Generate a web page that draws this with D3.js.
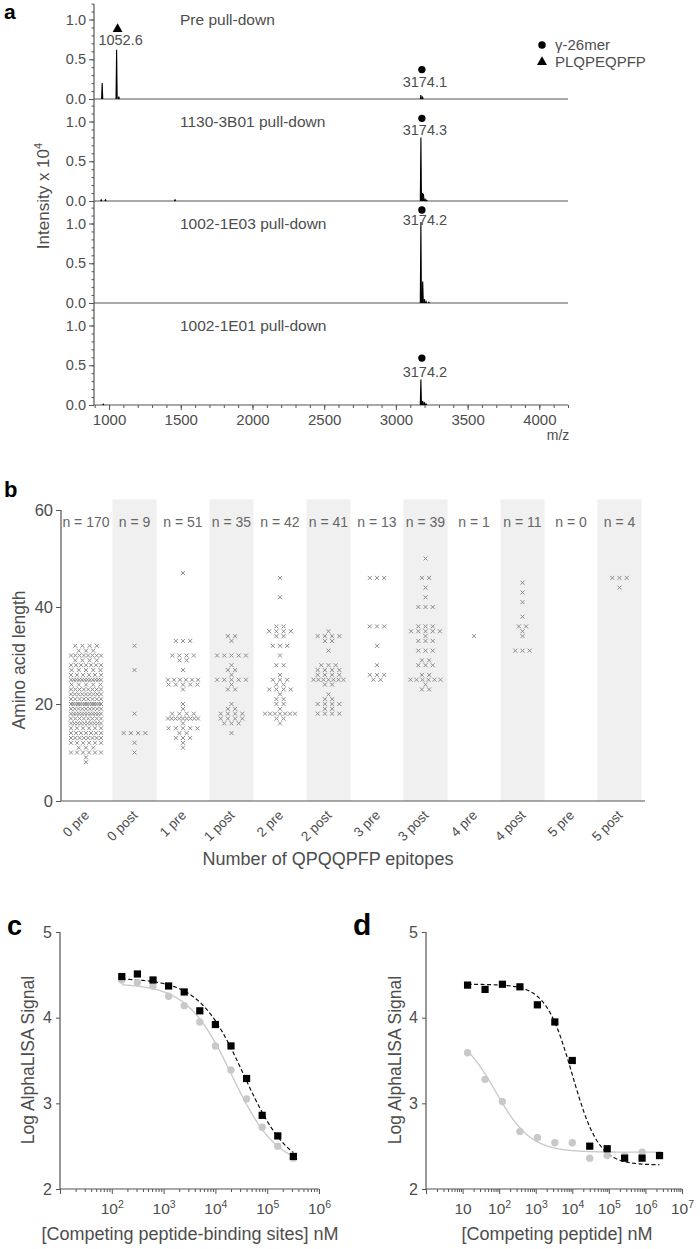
<!DOCTYPE html>
<html><head><meta charset="utf-8">
<script src="https://cdn.jsdelivr.net/npm/d3@7"></script>
<style>
body{margin:0;background:#fff}
svg{display:block}
text{font-family:"Liberation Sans",Arial,Helvetica,sans-serif}
</style>
</head><body>
<svg id="fig" width="700" height="1249"></svg>
<script>
// ================= DATA =================
// Panel a: MALDI spectra, peaks as [m/z, intensity x10^4]
const panelTitles = ["Pre pull-down", "1130-3B01 pull-down", "1002-1E03 pull-down", "1002-1E01 pull-down"];
const specPre   = [[952, 0.20], [1052.6, 0.62], [1068, 0.03], [3174.1, 0.05], [3186, 0.02]];
const spec3B01  = [[945, 0.015], [975, 0.015], [1460, 0.015], [3174.3, 0.80], [3184, 0.10], [3192, 0.09], [3203, 0.03], [3215, 0.01]];
const spec1E03  = [[3174.2, 1.02], [3187, 0.27], [3198, 0.05], [3210, 0.02], [3230, 0.01]];
const spec1E01  = [[960, 0.01], [3174.2, 0.32], [3186, 0.05], [3197, 0.04], [3210, 0.015]];
const spectra = [specPre, spec3B01, spec1E03, spec1E01];
// peak annotations: panel, m/z, label, label level, marker level, marker
const annPanel  = [0, 0, 1, 2, 3];
const annMz     = [1052.6, 3174.1, 3174.3, 3174.2, 3174.2];
const annText   = ["1052.6", "3174.1", "3174.3", "3174.2", "3174.2"];
const annLabelY = [0.74, 0.21, 0.89, 1.04, 0.41];
const annMarkY  = [0.88, 0.37, 1.04, 1.17, 0.59];
const annSym    = ["tri", "dot", "dot", "dot", "dot"];
const legendA   = ["γ-26mer", "PLQPEQPFP"];
const mzTicks   = [1000, 1500, 2000, 2500, 3000, 3500, 4000];
const intTicks  = [0, 0.5, 1.0];

// Panel b: amino acid length per category, [length, count]
const catsB = ["0 pre", "0 post", "1 pre", "1 post", "2 pre", "2 post", "3 pre", "3 post", "4 pre", "4 post", "5 pre", "5 post"];
const nLabels = [170, 9, 51, 35, 42, 41, 13, 39, 1, 11, 0, 4];
const len0pre  = [[8,1],[9,1],[10,6],[11,3],[12,6],[13,8],[14,7],[15,6],[16,10],[17,8],[18,12],[19,9],[20,14],[21,8],[22,9],[23,8],[24,5],[25,12],[26,6],[27,5],[28,7],[29,4],[30,8],[31,3],[32,4]];
const len0post = [[32,1],[27,1],[18,1],[14,4],[12,1],[10,1]];
const len1pre  = [[47,1],[33,3],[30,4],[29,2],[27,1],[25,6],[24,5],[23,1],[20,1],[19,1],[18,4],[17,9],[16,1],[15,5],[14,2],[13,3],[12,1],[11,1]];
const len1post = [[34,2],[33,1],[30,5],[28,1],[27,2],[26,1],[25,5],[24,1],[23,2],[20,1],[19,2],[18,4],[17,4],[16,3],[14,1]];
const len2pre  = [[46,1],[42,1],[36,2],[35,4],[34,2],[32,3],[30,1],[28,2],[26,1],[25,3],[24,2],[23,4],[22,1],[21,2],[20,2],[19,1],[18,7],[17,2],[16,1]];
const len2post = [[35,1],[34,4],[33,2],[31,1],[28,3],[27,4],[26,4],[25,7],[24,2],[22,1],[21,2],[20,4],[19,2],[18,4]];
const len3pre  = [[46,3],[36,3],[32,1],[28,1],[26,3],[25,2]];
const len3post = [[50,1],[46,2],[44,1],[42,1],[40,3],[36,3],[35,5],[34,1],[33,3],[31,3],[29,2],[28,3],[26,2],[25,6],[24,1],[23,2]];
const len4pre  = [[34,1]];
const len4post = [[45,1],[43,1],[41,1],[38,1],[36,2],[35,1],[34,1],[31,3]];
const len5pre  = [];
const len5post = [[46,3],[44,1]];
const lengthsB = [len0pre, len0post, len1pre, len1post, len2pre, len2post, len3pre, len3post, len4pre, len4post, len5pre, len5post];
const yTicksB = [0, 20, 40, 60];

// Panel c: [competing peptide-binding sites] nM vs log signal
const concC    = [156, 312, 625, 1250, 2500, 5000, 10000, 20000, 40000, 80000, 160000, 320000];
const squaresC = [4.48, 4.51, 4.44, 4.37, 4.30, 4.08, 3.92, 3.67, 3.29, 2.86, 2.62, 2.38];
const circlesC = [4.44, 4.41, 4.37, 4.25, 4.14, 3.95, 3.67, 3.39, 3.05, 2.72, 2.50, 2.36];
const fitSquaresC = [4.46, 2.20, 4.55, 1.0];   // top, bottom, logEC50, hill
const fitCirclesC = [4.40, 2.25, 4.32, 1.0];
// Panel d: [competing peptide] nM vs log signal
const concD    = [13.7, 41.2, 123, 370, 1111, 3333, 10000, 30000, 90000, 270000, 810000, 2430000];
const squaresD = [4.38, 4.33, 4.39, 4.36, 4.15, 3.95, 3.50, 2.50, 2.47, 2.36, 2.36, 2.39];
const circlesD = [3.59, 3.28, 3.02, 2.67, 2.60, 2.54, 2.54, 2.36, 2.39, 2.39, 2.43, 2.40];
const fitSquaresD = [4.39, 2.28, 4.00, 1.2];
const fitCirclesD = [3.85, 2.43, 1.90, 0.9];
const yTicksCD = [2, 3, 4, 5];

// ================= DRAW =================
const svg = d3.select("#fig");
const TXT = "#4d4d4d", AX = "#555";
const FONT = '"Liberation Sans",Arial,sans-serif';

function styleAxis(g, fs) {
  g.selectAll(".domain").remove();
  g.selectAll("line").attr("stroke", AX);
  g.selectAll("text").attr("fill", TXT).attr("font-size", fs).attr("font-family", FONT);
}
function letter(t, x, y, fs) {
  svg.append("text").attr("x", x).attr("y", y).attr("font-size", fs).attr("font-weight", "bold")
    .attr("fill", "#000").text(t);
}

// ---------- Panel a ----------
letter("a", 4, 19, 21);
const xA = d3.scaleLinear().domain([895, 4200]).range([94, 568]);
const zeroA = [99, 201, 303, 405];
const unitA = 79.5;
const gA = svg.append("g");
gA.append("line").attr("x1", 94).attr("x2", 94).attr("y1", 4).attr("y2", 405).attr("stroke", AX).attr("stroke-width", 1.2);
spectra.forEach((peaks, i) => {
  const y = d3.scaleLinear().domain([0, 1]).range([zeroA[i], zeroA[i] - unitA]);
  const minor = d3.axisLeft(y).tickValues(d3.range(0, 1.21, 0.1)).tickSize(2.5).tickFormat("");
  styleAxis(gA.append("g").attr("transform", "translate(94,0)").call(minor), 14);
  const major = d3.axisLeft(y).tickValues(intTicks).tickSize(5).tickPadding(3).tickFormat(d3.format(".1f"));
  styleAxis(gA.append("g").attr("transform", "translate(94,0)").call(major), 14.5);
  gA.append("line").attr("x1", 94).attr("x2", 568).attr("y1", y(0)).attr("y2", y(0)).attr("stroke", AX).attr("stroke-width", 1.2);
  const line = d3.line().x(d => xA(d[0])).y(d => y(d[1]));
  peaks.forEach(p => {
    gA.append("path").attr("d", line([[p[0] - 4, 0], [p[0], p[1]], [p[0] + 4, 0]]))
      .attr("fill", "none").attr("stroke", "#000").attr("stroke-width", 1.1);
  });
  gA.append("text").attr("x", 180).attr("y", zeroA[i] - unitA + 5.5)
    .attr("font-size", 15.5).attr("fill", TXT).text(panelTitles[i]);
});
annMz.forEach((mz, k) => {
  const z = zeroA[annPanel[k]];
  const y = d3.scaleLinear().domain([0, 1]).range([z, z - unitA]);
  gA.append("text").attr("x", xA(mz) + 4).attr("y", y(annLabelY[k]) + 5).attr("text-anchor", "middle")
    .attr("font-size", 14.5).attr("fill", TXT).text(annText[k]);
  const sym = annSym[k] === "tri" ? d3.symbolTriangle : d3.symbolCircle;
  gA.append("path").attr("d", d3.symbol(sym, 42)())
    .attr("transform", `translate(${xA(mz) + 1},${y(annMarkY[k])})`).attr("fill", "#000");
});
[d3.symbolCircle, d3.symbolTriangle].forEach((s, k) => {
  gA.append("path").attr("d", d3.symbol(s, 44)()).attr("transform", `translate(542,${45 + k * 17})`).attr("fill", "#000");
  gA.append("text").attr("x", 555).attr("y", 50 + k * 17).attr("font-size", 15).attr("fill", TXT).text(legendA[k]);
});
const yBot = zeroA[3];
styleAxis(gA.append("g").attr("transform", `translate(0,${yBot})`)
  .call(d3.axisBottom(xA).tickValues(d3.range(900, 4201, 100)).tickSize(3).tickFormat("")), 14);
styleAxis(gA.append("g").attr("transform", `translate(0,${yBot})`)
  .call(d3.axisBottom(xA).tickValues(mzTicks).tickSize(5).tickPadding(4).tickFormat(d3.format("d"))), 15);
gA.append("text").attr("x", 558).attr("y", 440).attr("text-anchor", "middle").attr("font-size", 14).attr("fill", TXT).text("m/z");
gA.append("text").attr("transform", "translate(49,196) rotate(-90)").attr("text-anchor", "middle")
  .attr("font-size", 17).attr("fill", TXT).text("Intensity x 10").append("tspan").attr("dy", -7).attr("font-size", 11).text("4");

// ---------- Panel b ----------
letter("b", 4, 497, 22);
const xB = d3.scaleBand().domain(catsB).range([61.75, 643.75]).paddingInner(0.0928).paddingOuter(0.0464);
const yB = d3.scaleLinear().domain([0, 60]).range([801, 510]);
const gB = svg.append("g");
catsB.forEach((c, i) => {
  if (i % 2 === 1) gB.append("rect").attr("x", xB(c)).attr("width", xB.bandwidth())
    .attr("y", yB(62.2)).attr("height", yB(0) - yB(62.2)).attr("fill", "#f0f0f0");
});
gB.append("line").attr("x1", 61).attr("x2", 61).attr("y1", yB(0)).attr("y2", yB(60)).attr("stroke", AX).attr("stroke-width", 1.2);
gB.append("line").attr("x1", 61).attr("x2", 645).attr("y1", yB(0)).attr("y2", yB(0)).attr("stroke", AX).attr("stroke-width", 1.2);
styleAxis(gB.append("g").attr("transform", "translate(61,0)")
  .call(d3.axisLeft(yB).tickValues(yTicksB).tickSize(5).tickPadding(3)), 16.5);
lengthsB.forEach((pairs, ci) => {
  const cx = xB(catsB[ci]) + xB.bandwidth() / 2;
  pairs.forEach(([len, cnt]) => {
    const sp = cnt > 1 ? Math.min(7.2, 30 / (cnt - 1)) : 0;
    for (let k = 0; k < cnt; k++) {
      const x = cx + (k - (cnt - 1) / 2) * sp;
      gB.append("path").attr("d", "M-2,-2L2,2M-2,2L2,-2")
        .attr("transform", `translate(${x},${yB(len)})`).attr("stroke", "#8c8c8c").attr("stroke-width", 1).attr("fill", "none");
    }
  });
  gB.append("text").attr("x", cx).attr("y", 527).attr("text-anchor", "middle").attr("font-size", 14)
    .attr("fill", "#666").text("n = " + nLabels[ci]);
});
const xAxB = gB.append("g").attr("transform", `translate(0,${yB(0)})`).call(d3.axisBottom(xB).tickSize(0).tickFormat(""));
xAxB.select(".domain").remove();
catsB.forEach(c => {
  gB.append("text").attr("transform", `translate(${xB(c) + xB.bandwidth() / 2 + 4},${yB(0) + 15}) rotate(-45)`)
    .attr("text-anchor", "end").attr("font-size", 13.5).attr("fill", TXT).text(c);
});
gB.append("text").attr("x", 328).attr("y", 865).attr("text-anchor", "middle").attr("font-size", 18).attr("fill", TXT).text("Number of QPQQPFP epitopes");
gB.append("text").attr("transform", "translate(25,660) rotate(-90)").attr("text-anchor", "middle").attr("font-size", 17.5).attr("fill", TXT).text("Amino acid length");

// ---------- Panels c, d ----------
function logPanel(opt) {
  const g = svg.append("g");
  const x = d3.scaleLog().domain(opt.xdom).range(opt.xr);
  const y = d3.scaleLinear().domain([2, 5]).range([1189, 932]);
  g.append("line").attr("x1", opt.xr[0]).attr("x2", opt.xr[0]).attr("y1", y(2)).attr("y2", y(5)).attr("stroke", AX).attr("stroke-width", 1.2);
  g.append("line").attr("x1", opt.xr[0]).attr("x2", opt.xr[1]).attr("y1", y(2)).attr("y2", y(2)).attr("stroke", AX).attr("stroke-width", 1.2);
  styleAxis(g.append("g").attr("transform", `translate(${opt.xr[0]},0)`)
    .call(d3.axisLeft(y).tickValues(yTicksCD).tickSize(4).tickPadding(4).tickFormat(d3.format("d"))), 16);
  const lo = Math.log10(opt.xdom[0]), hi = Math.log10(opt.xdom[1]);
  const minorV = [], majorV = [];
  for (let e = Math.floor(lo); e <= hi; e++) {
    majorV.push(Math.pow(10, e));
    for (let m = 2; m <= 9; m++) { const v = m * Math.pow(10, e); if (v < opt.xdom[1]) minorV.push(v); }
  }
  styleAxis(g.append("g").attr("transform", `translate(0,${y(2)})`)
    .call(d3.axisBottom(x).tickValues(minorV).tickSize(3).tickFormat("")), 15);
  const maj = g.append("g").attr("transform", `translate(0,${y(2)})`)
    .call(d3.axisBottom(x).tickValues(majorV).tickSize(5).tickPadding(9).tickFormat(""));
  styleAxis(maj, 15.5);
  maj.selectAll(".tick text").each(function (d) {
    const e = Math.round(Math.log10(d));
    const t = d3.select(this);
    if (!opt.labels.includes(e)) return;
    t.text("10");
    if (e !== 1) t.append("tspan").attr("dy", -6).attr("font-size", 10.5).text(e);
  });
  const fit = (p, lx) => p[1] + (p[0] - p[1]) / (1 + Math.pow(10, (lx - p[2]) * p[3]));
  const l0 = Math.log10(opt.conc[0]), l1 = Math.log10(opt.conc[opt.conc.length - 1]);
  const pts = d3.range(0, 201).map(i => l0 + (l1 - l0) * i / 200);
  const line = d3.line().x(d => x(Math.pow(10, d[0]))).y(d => y(d[1]));
  g.append("path").attr("d", line(pts.map(l => [l, fit(opt.fitC, l)]))).attr("fill", "none").attr("stroke", "#c8c8c8").attr("stroke-width", 1.3);
  g.append("path").attr("d", line(pts.map(l => [l, fit(opt.fitS, l)]))).attr("fill", "none").attr("stroke", "#111").attr("stroke-width", 1.2).attr("stroke-dasharray", "4,2.5");
  opt.conc.forEach((c, i) => {
    g.append("circle").attr("cx", x(c)).attr("cy", y(opt.circ[i])).attr("r", 3.7).attr("fill", "#c8c8c8");
  });
  opt.conc.forEach((c, i) => {
    g.append("rect").attr("x", x(c) - 3.6).attr("y", y(opt.sq[i]) - 3.6).attr("width", 7.2).attr("height", 7.2).attr("fill", "#000");
  });
  g.append("text").attr("x", opt.titleX).attr("y", 1240).attr("text-anchor", "middle").attr("font-size", 18).attr("fill", TXT).text(opt.title);
  g.append("text").attr("transform", `translate(${opt.yTitleX},1060) rotate(-90)`).attr("text-anchor", "middle").attr("font-size", 17.5).attr("fill", TXT).text("Log AlphaLISA Signal");
}
letter("c", 7, 935, 27);
logPanel({ xdom: [10, 1e6], xr: [60, 319], labels: [2, 3, 4, 5, 6], conc: concC, sq: squaresC, circ: circlesC,
  fitS: fitSquaresC, fitC: fitCirclesC, title: "[Competing peptide-binding sites] nM", titleX: 190, yTitleX: 34 });
letter("d", 353, 935, 30);
logPanel({ xdom: [1, 1e7], xr: [426, 682], labels: [1, 2, 3, 4, 5, 6, 7], conc: concD, sq: squaresD, circ: circlesD,
  fitS: fitSquaresD, fitC: fitCirclesD, title: "[Competing peptide] nM", titleX: 557, yTitleX: 401 });
</script>
</body></html>
